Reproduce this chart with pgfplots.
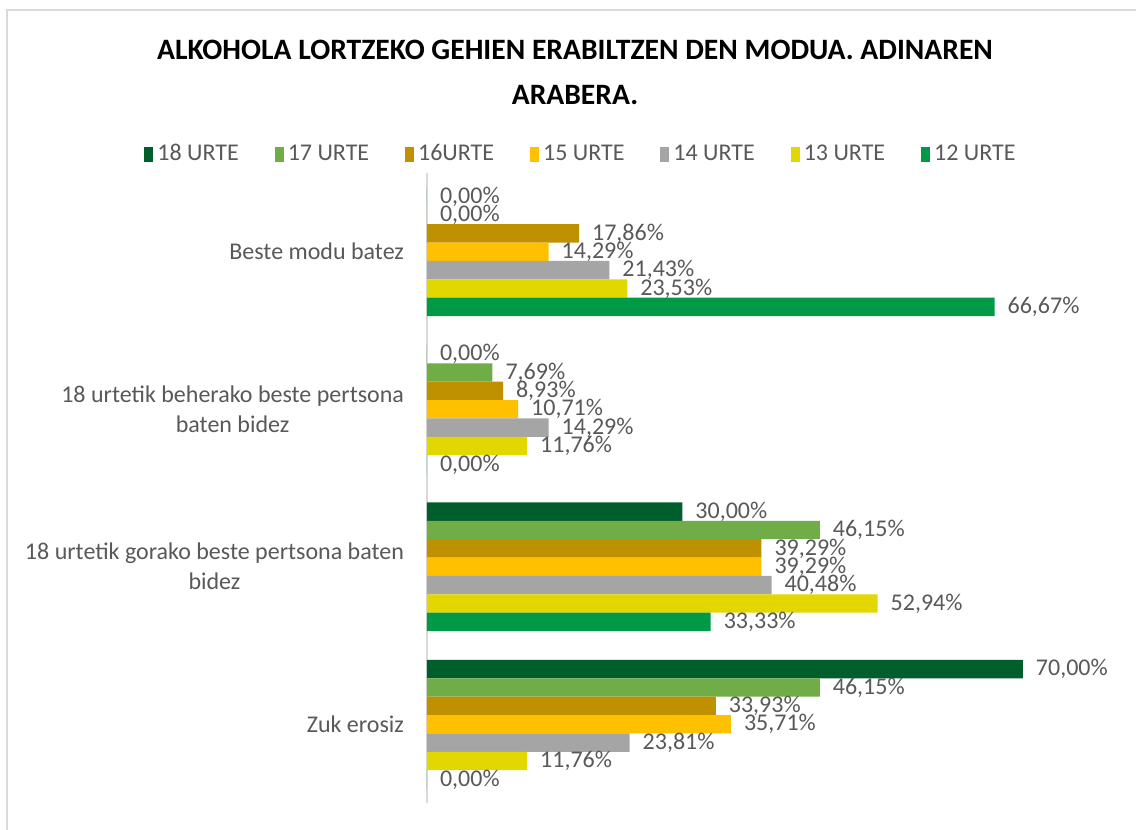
\documentclass[border=0pt]{standalone}
\usepackage{pgfplots}
\pgfplotsset{compat=1.18}
\usepackage{fontspec}
\setmainfont{Carlito}
\definecolor{c18}{RGB}{0,94,45}
\definecolor{c17}{RGB}{112,173,71}
\definecolor{c16}{RGB}{191,144,0}
\definecolor{c15}{RGB}{255,192,0}
\definecolor{c14}{RGB}{165,165,165}
\definecolor{c13}{RGB}{226,215,0}
\definecolor{c12}{RGB}{0,154,70}
\definecolor{lab}{RGB}{89,89,89}
\begin{document}
\begin{tikzpicture}
\path[use as bounding box, fill=white] (0pt,0pt) rectangle (568pt,415pt);
\draw[color=black!15, line width=1pt] (3.5pt,0pt) -- (3.5pt,410pt) -- (568pt,410pt);
\node[font=\fontsize{14.8}{22.5}\selectfont\bfseries, align=center] at (287.5pt,378.75pt) {ALKOHOLA LORTZEKO GEHIEN ERABILTZEN DEN MODUA. ADINAREN\\ARABERA.};
\begin{axis}[
  at={(213.5pt,13.5pt)}, anchor=south west,
  width=340.5pt, height=315pt, scale only axis,
  xbar, bar width=0.1168,
  xmin=0, xmax=80, ymin=-0.5, ymax=3.5,
  clip=false,
  axis x line=none,
  axis y line=left,
  y axis line style={-, draw=black!15, line width=0.8pt},
  major tick length=0pt,
  ytick={0,1,2,3},
  yticklabels={Zuk erosiz,{18 urtetik gorako beste pertsona baten\\bidez},{18 urtetik beherako beste pertsona\\baten bidez},Beste modu batez},
  yticklabel style={align=center, font=\fontsize{12}{15}\selectfont, text=lab, xshift=-8pt},
  /pgf/number format/assume math mode=true,
  point meta=x,
  nodes near coords={\pgfmathprintnumber[fixed, fixed zerofill, precision=2, use comma]{\pgfplotspointmeta}\%},
  every node near coord/.append style={anchor=west, xshift=3pt, font=\fontsize{12}{14}\selectfont, text=lab},
  legend columns=7,
  legend style={at={(0.2276,1.030)}, anchor=center, draw=none, fill=none, font=\fontsize{12}{14}\selectfont, text=lab,
    /tikz/every even column/.append style={column sep=16pt}},
  legend cell align=left,
  every axis plot post/.append style={draw=none, legend image code/.code={\fill[##1] (0pt,-3.75pt) rectangle (4.5pt,3.75pt);}},
]
\addplot[fill=c18, bar shift=0.3504] coordinates {(70,0) (30,1) (0,2) (0,3)};
\addlegendentry{18 URTE}
\addplot[fill=c17, bar shift=0.2336] coordinates {(46.15,0) (46.15,1) (7.69,2) (0,3)};
\addlegendentry{17 URTE}
\addplot[fill=c16, bar shift=0.1168] coordinates {(33.93,0) (39.29,1) (8.93,2) (17.86,3)};
\addlegendentry{16URTE}
\addplot[fill=c15, bar shift=0] coordinates {(35.71,0) (39.29,1) (10.71,2) (14.29,3)};
\addlegendentry{15 URTE}
\addplot[fill=c14, bar shift=-0.1168] coordinates {(23.81,0) (40.48,1) (14.29,2) (21.43,3)};
\addlegendentry{14 URTE}
\addplot[fill=c13, bar shift=-0.2336] coordinates {(11.76,0) (52.94,1) (11.76,2) (23.53,3)};
\addlegendentry{13 URTE}
\addplot[fill=c12, bar shift=-0.3504] coordinates {(0,0) (33.33,1) (0,2) (66.67,3)};
\addlegendentry{12 URTE}
\end{axis}
\end{tikzpicture}
\end{document}
